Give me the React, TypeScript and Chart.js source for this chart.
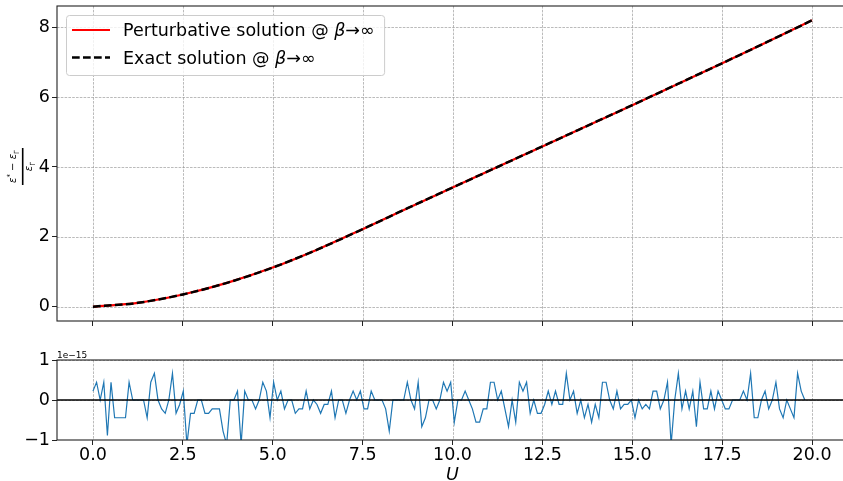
import React, { useEffect, useRef } from "react";
import { Chart, registerables } from "chart.js";

Chart.register(...registerables);

// ---------------- data ----------------
const U_CURVE = [0, 1.25, 2.5, 3.75, 5, 6.25, 7.5, 8.75, 10, 11.25, 12.5, 13.75, 15, 16.25, 17.5, 18.75, 20];
const PERTURBATIVE = [0, 0.11, 0.35, 0.69, 1.12, 1.64, 2.22, 2.82, 3.41, 4.0, 4.59, 5.18, 5.77, 6.37, 6.97, 7.58, 8.2];
const EXACT = [0, 0.11, 0.35, 0.69, 1.12, 1.64, 2.22, 2.82, 3.41, 4.0, 4.59, 5.18, 5.77, 6.37, 6.97, 7.58, 8.2];

// residual (perturbative - exact), in units of 1e-15, sampled on U grid with step 20/199
const RESIDUAL_STEP = 20 / 199;
const RESIDUAL_E15 = [
  0.222, 0.444, 0, 0.444, -0.888, 0.444, -0.444, -0.444, -0.444, -0.444,
  0.444, 0, 0, 0, 0, -0.444, 0.444, 0.666, 0, -0.222,
  -0.333, 0, 0.666, -0.333, -0.111, 0.222, -1.11, -0.333, -0.333, 0,
  0, -0.333, -0.333, -0.222, -0.222, -0.222, -0.777, -1.11, 0, 0,
  0.222, -1.11, 0.222, 0, 0, -0.222, 0, 0.444, 0.222, -0.444,
  0.444, 0, 0.222, -0.222, 0, 0, -0.333, -0.222, -0.222, 0.222,
  -0.222, 0, -0.111, -0.333, -0.111, -0.111, 0.222, -0.444, 0, 0,
  -0.333, 0, 0.222, 0, 0.222, -0.222, -0.222, 0.222, 0, 0,
  0, -0.222, -0.777, 0, 0, 0, 0, 0.444, 0, -0.222,
  0.444, -0.666, -0.444, 0, 0, -0.222, 0, 0.444, 0.222, 0.444,
  -0.555, 0, 0, 0.222, 0, -0.222, -0.555, -0.555, -0.222, -0.222,
  0.444, 0.444, 0, 0.222, -0.222, -0.666, 0, -0.555, 0.444, 0.222,
  0.444, -0.333, 0, -0.333, -0.333, -0.111, 0.222, -0.111, 0.222, -0.111,
  -0.111, 0.666, 0, 0.222, -0.333, 0, -0.444, -0.111, -0.555, -0.111,
  -0.444, 0.444, 0.444, 0, -0.222, 0.222, -0.222, -0.111, -0.111, 0,
  -0.444, 0, -0.222, -0.111, -0.222, 0.222, 0.222, -0.222, 0, 0.444,
  -1.11, 0, 0.666, -0.222, 0.222, -0.222, 0.222, -0.666, 0.444, -0.222,
  -0.222, 0.222, -0.222, 0.222, 0, -0.222, -0.222, 0, 0, 0,
  0.222, 0, 0.666, -0.444, -0.444, 0, 0.222, -0.222, 0, 0.444,
  -0.222, -0.444, 0, -0.222, -0.444, 0.666, 0.222, 0,
];

const X_TICKS = [0, 2.5, 5, 7.5, 10, 12.5, 15, 17.5, 20];
const X_TICK_LABELS = ["0.0", "2.5", "5.0", "7.5", "10.0", "12.5", "15.0", "17.5", "20.0"];
const Y_TOP_TICKS = [0, 2, 4, 6, 8];
const Y_BOT_TICKS = [-1, 0, 1];
const Y_BOT_LABELS = ["\u22121", "0", "1"];
const LEGEND_TEXT = ["Perturbative solution @ ", "Exact solution @ "];
const X_TITLE = "U";
const OFFSET_TEXT = "1e\u221215";

const FONT = '"DejaVu Sans", "Liberation Sans", sans-serif';
const FS = 17.5;

// ---------------- helpers ----------------
function drawGrid(chart: any, xs: number[], ys: number[]) {
  const { ctx, chartArea: a, scales } = chart;
  ctx.save();
  ctx.beginPath();
  ctx.rect(a.left, a.top, a.right - a.left, a.bottom - a.top);
  ctx.clip();
  ctx.strokeStyle = "rgba(140,140,140,0.85)";
  ctx.lineWidth = 0.7;
  ctx.setLineDash([2.6, 1.2]);
  for (const v of xs) {
    const p = Math.round(scales.x.getPixelForValue(v)) + 0.5;
    ctx.beginPath();
    ctx.moveTo(p, a.top);
    ctx.lineTo(p, a.bottom);
    ctx.stroke();
  }
  for (const v of ys) {
    const p = Math.round(scales.y.getPixelForValue(v)) + 0.5;
    ctx.beginPath();
    ctx.moveTo(a.left, p);
    ctx.lineTo(a.right, p);
    ctx.stroke();
  }
  ctx.restore();
}

function drawFrame(chart: any) {
  const { ctx, chartArea: a } = chart;
  ctx.save();
  ctx.strokeStyle = "#222";
  ctx.lineWidth = 1.1;
  ctx.setLineDash([]);
  ctx.strokeRect(a.left, a.top, a.right - a.left, a.bottom - a.top);
  ctx.restore();
}

function drawPieces(ctx: any, pieces: any[], cx: number, baseline: number) {
  let total = 0;
  for (const p of pieces) {
    ctx.font = p.f;
    total += ctx.measureText(p.t).width;
  }
  let x = cx - total / 2;
  for (const p of pieces) {
    ctx.font = p.f;
    ctx.fillText(p.t, x, baseline + (p.dy || 0));
    x += ctx.measureText(p.t).width;
  }
}

const topPlugin = {
  id: "topDecor",
  beforeDatasetsDraw(chart: any) {
    drawGrid(chart, X_TICKS, Y_TOP_TICKS);
  },
  afterDatasetsDraw(chart: any) {
    const { ctx } = chart;
    drawFrame(chart);

    // legend
    ctx.save();
    const textX = 123;
    const rows = [
      { y: 30, base: 36, color: "#ff0000", dash: [] as number[], w: 2.2, text: LEGEND_TEXT[0] },
      { y: 57.5, base: 63.5, color: "#000000", dash: [7.7, 3.3], w: 2.5, text: LEGEND_TEXT[1] },
    ];
    let maxRight = 0;
    const normal = `${FS}px ${FONT}`;
    const ital = `italic ${FS}px ${FONT}`;
    for (const r of rows) {
      ctx.font = normal;
      let w = ctx.measureText(r.text).width;
      ctx.font = ital;
      w += ctx.measureText("\u03b2").width;
      ctx.font = normal;
      w += ctx.measureText("\u2192\u221e").width;
      maxRight = Math.max(maxRight, textX + w);
    }
    const bx = 66.5, by = 15.5, bw = maxRight + 10 - bx, bh = 60;
    ctx.beginPath();
    ctx.roundRect(bx, by, bw, bh, 3);
    ctx.fillStyle = "rgba(255,255,255,0.8)";
    ctx.fill();
    ctx.strokeStyle = "#cccccc";
    ctx.lineWidth = 1;
    ctx.stroke();
    for (const r of rows) {
      ctx.beginPath();
      ctx.setLineDash(r.dash);
      ctx.strokeStyle = r.color;
      ctx.lineWidth = r.w;
      ctx.moveTo(72, r.y);
      ctx.lineTo(110, r.y);
      ctx.stroke();
      ctx.setLineDash([]);
      ctx.fillStyle = "#000";
      ctx.textBaseline = "alphabetic";
      ctx.textAlign = "left";
      let x = textX;
      ctx.font = normal;
      ctx.fillText(r.text, x, r.base);
      x += ctx.measureText(r.text).width;
      ctx.font = ital;
      ctx.fillText("\u03b2", x, r.base);
      x += ctx.measureText("\u03b2").width;
      ctx.font = normal;
      ctx.fillText("\u2192\u221e", x, r.base);
    }
    ctx.restore();

    // y label: (eps* - eps_Gamma) / eps_Gamma, rotated
    ctx.save();
    ctx.translate(22.7, 166.5);
    ctx.rotate(-Math.PI / 2);
    ctx.fillStyle = "#000";
    ctx.strokeStyle = "#000";
    ctx.lineWidth = 1.6;
    ctx.beginPath();
    ctx.moveTo(-18.5, 0);
    ctx.lineTo(18.5, 0);
    ctx.stroke();
    ctx.textAlign = "left";
    ctx.textBaseline = "alphabetic";
    const fi = `italic 10px ${FONT}`;
    const fn = `10px ${FONT}`;
    const fs = `7px ${FONT}`;
    drawPieces(ctx, [
      { t: "\u03b5", f: fi },
      { t: "*", f: fs, dy: -4 },
      { t: " \u2212 ", f: fn },
      { t: "\u03b5", f: fi },
      { t: "\u0393", f: fs, dy: 2.5 },
    ], 0, -6.5);
    drawPieces(ctx, [
      { t: "\u03b5", f: fi },
      { t: "\u0393", f: fs, dy: 2.5 },
    ], 0, 9.5);
    ctx.restore();
  },
};

const bottomPlugin = {
  id: "bottomDecor",
  beforeDatasetsDraw(chart: any) {
    drawGrid(chart, X_TICKS, Y_BOT_TICKS);
  },
  afterDatasetsDraw(chart: any) {
    const { ctx, chartArea: a, scales } = chart;
    ctx.save();
    const y0 = scales.y.getPixelForValue(0);
    ctx.strokeStyle = "#000";
    ctx.lineWidth = 1.5;
    ctx.beginPath();
    ctx.moveTo(a.left, y0);
    ctx.lineTo(a.right, y0);
    ctx.stroke();
    ctx.restore();
    drawFrame(chart);
    ctx.save();
    ctx.fillStyle = "#000";
    ctx.textAlign = "left";
    ctx.textBaseline = "alphabetic";
    ctx.font = `9px ${FONT}`;
    ctx.fillText(OFFSET_TEXT, a.left, a.top - 2);
    ctx.font = `italic ${FS}px ${FONT}`;
    ctx.textAlign = "center";
    const cx = (scales.x.left + scales.x.right) / 2;
    ctx.fillText(X_TITLE, cx, 139.5);
    ctx.restore();
  },
};

function xScale(showLabels: boolean, height: number) {
  return {
    type: "linear" as const,
    min: -1,
    max: 21,
    afterBuildTicks: (s: any) => {
      s.ticks = X_TICKS.map((v) => ({ value: v }));
    },
    afterFit: (s: any) => {
      s.height = height;
      s.paddingLeft = 0;
      s.paddingRight = 0;
    },
    grid: {
      drawOnChartArea: false,
      drawTicks: true,
      tickLength: 5,
      tickColor: "#222",
      tickWidth: 1,
    },
    border: { display: false },
    ticks: {
      display: showLabels,
      autoSkip: false,
      maxRotation: 0,
      padding: 0,
      color: "#000",
      font: { family: FONT, size: FS },
      callback: (v: any) => {
        const i = X_TICKS.indexOf(Number(v));
        return i >= 0 ? X_TICK_LABELS[i] : "";
      },
    },
  };
}

function yScale(min: number, max: number, ticks: number[], labels: string[] | null) {
  return {
    type: "linear" as const,
    min,
    max,
    afterBuildTicks: (s: any) => {
      s.ticks = ticks.map((v) => ({ value: v }));
    },
    afterFit: (s: any) => {
      s.width = 57;
      s.paddingTop = 0;
      s.paddingBottom = 0;
    },
    grid: {
      drawOnChartArea: false,
      drawTicks: true,
      tickLength: 5,
      tickColor: "#222",
      tickWidth: 1,
    },
    border: { display: false },
    ticks: {
      autoSkip: false,
      padding: 2,
      color: "#000",
      font: { family: FONT, size: FS },
      callback: (v: any) => {
        const i = ticks.indexOf(Number(v));
        if (labels && i >= 0) return labels[i];
        return String(v);
      },
    },
  };
}

export default function App() {
  const topRef = useRef<HTMLCanvasElement>(null);
  const botRef = useRef<HTMLCanvasElement>(null);

  useEffect(() => {
    const top = new Chart(topRef.current as HTMLCanvasElement, {
      type: "line",
      data: {
        datasets: [
          {
            label: "Perturbative",
            data: U_CURVE.map((u, i) => ({ x: u, y: PERTURBATIVE[i] })),
            borderColor: "#ff0000",
            borderWidth: 2.2,
            pointRadius: 0,
            cubicInterpolationMode: "monotone",
            fill: false,
            order: 2,
          },
          {
            label: "Exact",
            data: U_CURVE.map((u, i) => ({ x: u, y: EXACT[i] })),
            borderColor: "#000000",
            borderWidth: 2.5,
            borderDash: [7.7, 3.3],
            pointRadius: 0,
            cubicInterpolationMode: "monotone",
            fill: false,
            order: 1,
          },
        ],
      },
      options: {
        animation: false,
        responsive: false,
        devicePixelRatio: 1,
        events: [],
        layout: { padding: { top: 6, left: 0, right: 0, bottom: 0 } },
        plugins: { legend: { display: false }, tooltip: { enabled: false } },
        scales: {
          x: xScale(false, 9),
          y: yScale(-0.41, 8.61, Y_TOP_TICKS, null),
        },
      } as any,
      plugins: [topPlugin],
    });

    const bot = new Chart(botRef.current as HTMLCanvasElement, {
      type: "line",
      data: {
        datasets: [
          {
            label: "Residual",
            data: RESIDUAL_E15.map((r, i) => ({ x: i * RESIDUAL_STEP, y: r })),
            borderColor: "#1f77b4",
            borderWidth: 1.2,
            pointRadius: 0,
            tension: 0,
            fill: false,
          },
        ],
      },
      options: {
        animation: false,
        responsive: false,
        devicePixelRatio: 1,
        events: [],
        layout: { padding: { top: 20, left: 0, right: 0, bottom: 0 } },
        plugins: { legend: { display: false }, tooltip: { enabled: false } },
        scales: {
          x: xScale(true, 41),
          y: yScale(-1, 1, Y_BOT_TICKS, Y_BOT_LABELS),
        },
      } as any,
      plugins: [bottomPlugin],
    });

    return () => {
      top.destroy();
      bot.destroy();
    };
  }, []);

  return (
    <div
      style={{
        position: "fixed",
        left: 0,
        top: 0,
        width: 843,
        height: 481,
        overflow: "hidden",
        background: "#fff",
      }}
    >
      <canvas ref={topRef} width={848} height={330} style={{ position: "absolute", left: 0, top: 0, width: 848, height: 330 }} />
      <canvas ref={botRef} width={848} height={141} style={{ position: "absolute", left: 0, top: 340, width: 848, height: 141 }} />
    </div>
  );
}
